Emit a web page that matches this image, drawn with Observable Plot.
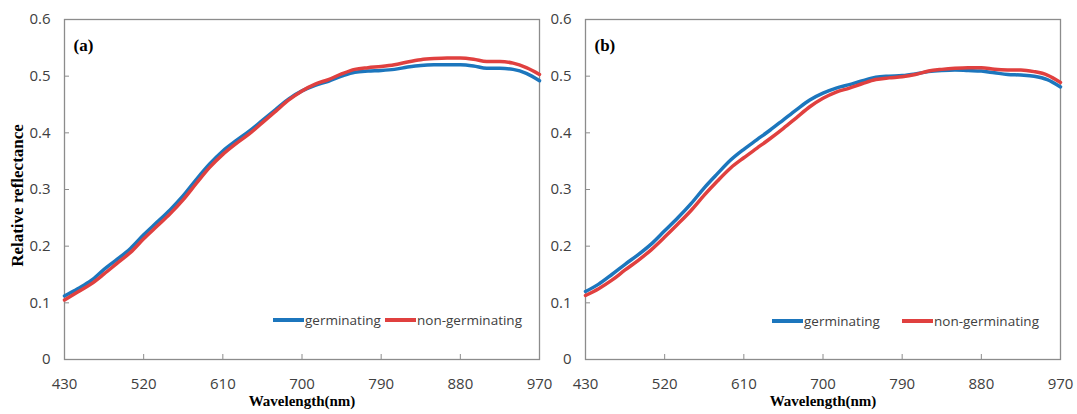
<!DOCTYPE html>
<html><head><meta charset="utf-8">
<script src="https://cdn.jsdelivr.net/npm/d3@7"></script>
<script src="https://cdn.jsdelivr.net/npm/@observablehq/plot@0.6"></script>
<style>
body{margin:0;background:#fff;}
#wrap{position:relative;width:1077px;height:414px;overflow:hidden;background:#fff;}
.panel{position:absolute;top:0;}
.item{position:absolute;height:16px;display:flex;align-items:center;font-family:"Open Sans";font-size:13.5px;color:#404040;white-space:nowrap;}
.sw{display:inline-block;width:31px;height:3.5px;margin-right:1px;}
</style></head>
<body><div id="wrap"></div>
<script>
const wavelengths = [430,445,460,475,490,505,520,535,550,565,580,595,610,625,640,655,670,685,700,715,730,745,760,775,790,805,820,835,850,865,880,895,910,925,940,955,970];
const germA = [.112,.125,.139,.159,.177,.196,.220,.242,.264,.289,.318,.345,.368,.386,.403,.422,.441,.460,.474,.484,.491,.500,.507,.509,.510,.512,.516,.519,.520,.520,.520,.518,.514,.514,.512,.505,.492];
const nonA  = [.105,.119,.133,.151,.170,.189,.213,.235,.257,.282,.311,.339,.362,.381,.398,.418,.438,.458,.474,.486,.494,.504,.512,.515,.517,.520,.525,.529,.531,.532,.532,.530,.526,.526,.523,.515,.503];
const germB = [.120,.133,.150,.168,.185,.204,.227,.250,.275,.303,.328,.352,.371,.388,.405,.423,.441,.458,.470,.479,.485,.492,.498,.500,.501,.504,.508,.510,.511,.510,.509,.506,.503,.502,.500,.494,.481];
const nonB  = [.113,.125,.140,.158,.175,.194,.216,.239,.263,.290,.315,.338,.356,.373,.390,.408,.427,.446,.461,.472,.479,.487,.494,.497,.499,.503,.509,.512,.514,.515,.515,.512,.511,.511,.508,.502,.489];
const xTicks = [430,520,610,700,790,880,970];
const yTicks = [0,0.1,0.2,0.3,0.4,0.5,0.6];
const seriesNames = ["germinating","non-germinating"];
const seriesColors = ["#1c76bd","#e0403f"];
const panelTags = ["(a)","(b)"];
const xTitle = "Wavelength(nm)";
const yTitle = "Relative reflectance";

const axisColor = "#8c8c8c";
const textColor = "#404040";

function panel(germ, non, tag, withYTitle) {
  const rows = [];
  seriesNames.forEach((s, k) => {
    const vals = k === 0 ? germ : non;
    wavelengths.forEach((w, i) => rows.push({w, v: vals[i], s}));
  });
  const marks = [
    Plot.frame({stroke: axisColor, strokeWidth: 1.3}),
    Plot.axisX({ticks: xTicks, tickSize: -5, stroke: axisColor, fill: "none", label: null}),
    Plot.axisY({ticks: yTicks, tickSize: -5, stroke: axisColor, fill: "none", label: null}),
    Plot.axisX({ticks: xTicks, tickSize: 0, tickPadding: 19, fontSize: 15, fontFamily: "Open Sans", fill: textColor, label: null, tickFormat: d => String(d)}),
    Plot.axisY({ticks: yTicks, tickSize: 0, tickPadding: 14, fontSize: 15, fontFamily: "Open Sans", fill: textColor, label: null, tickFormat: d => d === 0 ? "0" : d.toFixed(1)}),
    Plot.line(rows, {x: "w", y: "v", z: "s", stroke: "s", strokeWidth: 3.5, curve: "monotone-x"}),
    Plot.text([tag], {frameAnchor: "top-left", dx: 9, dy: 26, lineAnchor: "middle", textAnchor: "start", fontFamily: "Liberation Serif", fontWeight: "bold", fontSize: 17, fill: "#000"}),
    Plot.text([xTitle], {frameAnchor: "bottom", dy: 42, lineAnchor: "middle", textAnchor: "middle", fontFamily: "Liberation Serif", fontWeight: "bold", fontSize: 15, fill: "#000"})
  ];
  if (withYTitle) {
    marks.push(Plot.text([yTitle], {frameAnchor: "left", dx: -47, dy: 6, rotate: -90, lineAnchor: "middle", textAnchor: "middle", fontFamily: "Liberation Serif", fontWeight: "bold", fontSize: 17, fill: "#000"}));
  }
  return Plot.plot({
    width: 545, height: 414,
    marginLeft: 64, marginRight: 6, marginTop: 19, marginBottom: 55,
    style: {background: "transparent", overflow: "visible"},
    x: {domain: [430, 970]},
    y: {domain: [0, 0.6]},
    color: {domain: seriesNames, range: seriesColors},
    marks
  });
}

const wrap = document.getElementById("wrap");
const pA = panel(germA, nonA, panelTags[0], true);
pA.classList.add("panel"); pA.style.left = "0px";
wrap.appendChild(pA);
const pB = panel(germB, nonB, panelTags[1], false);
pB.classList.add("panel"); pB.style.left = "521px";
wrap.appendChild(pB);

function legendItem(k, left, top) {
  const d = document.createElement("div");
  d.className = "item";
  d.style.left = left + "px";
  d.style.top = top + "px";
  const sw = document.createElement("span");
  sw.className = "sw";
  sw.style.background = seriesColors[k];
  d.appendChild(sw);
  d.appendChild(document.createTextNode(seriesNames[k]));
  wrap.appendChild(d);
}
legendItem(0, 273, 312);
legendItem(1, 385, 312);
legendItem(0, 772, 313);
legendItem(1, 902, 313);
</script>
</body></html>
